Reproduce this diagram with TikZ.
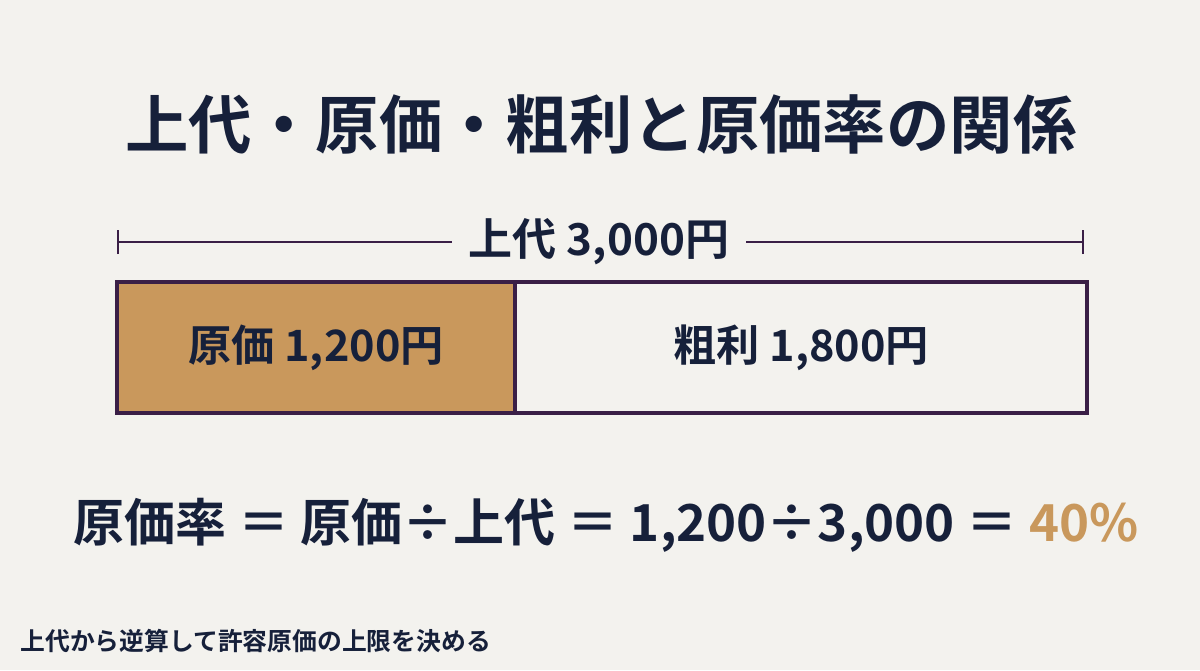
\documentclass[tikz,border=0pt]{standalone}
\usepackage{fontspec}
\setmainfont{Noto Sans CJK JP}[BoldFont={Noto Sans CJK JP Bold}]
\definecolor{bg}{HTML}{F3F2EE}
\definecolor{ink}{HTML}{16203A}
\definecolor{edge}{HTML}{3A1F46}
\definecolor{tan}{HTML}{C9985C}
\begin{document}
\begin{tikzpicture}[x=0.5pt,y=-0.5pt,
  txt/.style={text=ink,font=\bfseries,inner sep=0pt},
  part/.style={draw=edge,line width=2.2pt,inner sep=0pt,minimum height=65.5pt},
  dim/.style={draw=edge,line width=1.4pt}]
\fill[bg] (0,0) rectangle (1200,670);
\useasboundingbox (0,0) rectangle (1200,670);
\node[txt,font=\bfseries\fontsize{31.7}{38}\selectfont] (title) at (601,124) {上代・原価・粗利と原価率の関係};
% dimension line
\node[txt,font=\bfseries\fontsize{22}{26}\selectfont,inner xsep=8.5pt] (total) at (599,242) {上代 3,000円};
\coordinate (dl) at (118,242);
\coordinate (dr) at (1083,242);
\draw[dim] (dl) -- (total.west);
\draw[dim] (total.east) -- (dr);
\draw[dim] ([yshift=-6pt]dl) -- ([yshift=6pt]dl);
\draw[dim] ([yshift=-6pt]dr) -- ([yshift=6pt]dr);
% bar
\node[part,fill=tan,minimum width=199pt] (cost) at (316,347.5) {};
\node[part,fill=bg,minimum width=286pt] (profit) at (801,347.5) {};
\node[txt,font=\bfseries\fontsize{21.6}{26}\selectfont] (costl) at (cost) {原価 1,200円};
\node[txt,font=\bfseries\fontsize{21.6}{26}\selectfont] (profitl) at (profit) {粗利 1,800円};
% formula
\node[txt,font=\bfseries\fontsize{25.5}{30}\selectfont] (formula) at (606,525) {原価率 ＝ 原価÷上代 ＝ 1,200÷3,000 ＝ \textcolor{tan}{40\%}};
% footer
\node[txt,font=\bfseries\fontsize{12.4}{14}\selectfont,anchor=west] (note) at (20,641) {上代から逆算して許容原価の上限を決める};
\end{tikzpicture}
\end{document}
